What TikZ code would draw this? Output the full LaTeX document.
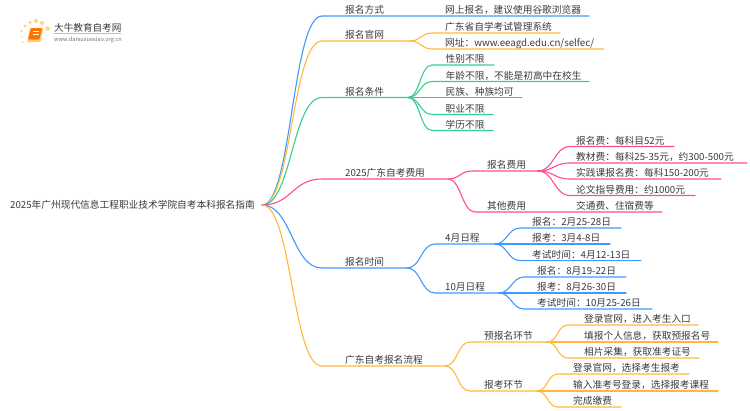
\documentclass[tikz,border=0pt]{standalone}
\usepackage{fontspec}
\setmainfont{Noto Sans CJK SC}
\definecolor{lineblue}{HTML}{3D9BFF}
\definecolor{lineorange}{HTML}{FFB83D}
\definecolor{linegreen}{HTML}{35CE8D}
\definecolor{linepink}{HTML}{FF4D94}
\definecolor{textgrey}{HTML}{3A3A3A}
\tikzset{
  lbl/.style={anchor=base west, inner sep=0pt, yshift=2.3pt, text=textgrey, font=\fontsize{9.7pt}{11pt}\selectfont},
  link/.style={line width=1.1pt, line cap=round, color=#1},
  bend/.style={to path={.. controls +(#1,0) and +(-#1,0) .. (\tikztotarget)}}
}

\begin{document}
\begin{tikzpicture}[x=1pt,y=-1pt]
  \useasboundingbox (0,0) rectangle (750,410);

  % logo
  \foreach \px/\py/\pr in {22/37/0.9,21.5/31/1.3,25/26/1.6,30/22.5/1.9,36/21/2.1,42/23/2.1,47.5/28.5/2.3,23/42/0.8}
    \fill[lineorange!60] (\px,\py) circle (\pr);
  \fill[lineorange!70!white, rounded corners=1pt] (30,28) -- (43.5,28) -- (40.5,42) -- (27,42) -- cycle;
  \fill[orange!90!red, rounded corners=1pt] (31,28) -- (42,28) -- (39.5,39.5) -- (28,39.5) -- cycle;
  \draw[white, line width=0.6pt] (33,31.5) -- (39,31.5) (32.5,34) -- (38.5,34);
  \node[anchor=base west, inner sep=0pt, text=textgrey, font=\fontsize{9.6pt}{11pt}\selectfont] (logotitle) at (54,31) {大牛教育自考网};
  \draw[black!25, line width=0.4pt] (54,33.5) -- (121,33.5);
  \node[anchor=base west, inner sep=0pt, text=black!55, font=\fontsize{5.6pt}{7pt}\selectfont] (logourl) at (54,41) {www.daniuxuexiao.org.cn};

  % root
  \coordinate (rootf) at (262,205);
  \node[lbl] (root) at (10,211) {2025年广州现代信息工程职业技术学院自考本科报名指南};

  % first level
  \foreach \nm/\y/\xe/\col/\txt in {way/16/589/lineblue/报名方式, site/41/410/lineorange/报名官网, cond/97.5/408/linegreen/报名条件, cost/179/448/linepink/2025广东自考费用, time/268/407/lineblue/报名时间, flow/366/445/lineorange/广东自考报名流程} {
    \coordinate (\nm s) at (322,\y);
    \coordinate (\nm f) at (\xe,\y);
    \node[lbl] (\nm) at (345,\y) {\txt};
    \draw[link=\col] (rootf) to[bend=30] (\nm s) -- (\nm f);
  }

  % way
  \node[lbl] (way1) at (445,16) {网上报名，建议使用谷歌浏览器};

  % site
  \foreach \nm/\y/\xe/\txt in {site1/33/560/广东省自学考试管理系统, site2/49/604/{网址：www.eeagd.edu.cn/selfec/}} {
    \coordinate (\nm s) at (432,\y);
    \coordinate (\nm e) at (\xe,\y);
    \node[lbl] (\nm) at (445,\y) {\txt};
    \draw[link=lineorange] (sitef) to[bend=11] (\nm s) -- (\nm e);
  }

  % cond
  \foreach \nm/\y/\xe/\txt in {cond1/65/494/性别不限, cond2/81.5/589/年龄不限，不能是初高中在校生, cond3/97.5/522/民族、种族均可, cond4/114.5/493/职业不限, cond5/130.5/493/学历不限} {
    \coordinate (\nm s) at (432,\y);
    \coordinate (\nm e) at (\xe,\y);
    \node[lbl] (\nm) at (445.5,\y) {\txt};
    \draw[link=linegreen] (condf) to[bend=12] (\nm s) -- (\nm e);
  }

  % cost
  \coordinate (fee s) at (472,171);
  \coordinate (fee f) at (538,171);
  \node[lbl] (fee) at (487,171) {报名费用};
  \draw[link=linepink] (costf) to[bend=12] (fee s) -- (fee f);
  \coordinate (other s) at (475,212);
  \coordinate (other e) at (662,212);
  \node[lbl] (other) at (487,212) {其他费用};
  \node[lbl] (other1) at (576,212) {交通费、住宿费等};
  \draw[link=linepink] (costf) to[bend=13] (other s) -- (other e);
  \foreach \nm/\y/\xe/\txt in {fee1/146.5/674/报名费：每科目52元, fee2/163/747/{教材费：每科25-35元，约300-500元}, fee3/179/721/实践课报名费：每科150-200元, fee4/195.5/695/论文指导费用：约1000元} {
    \coordinate (\nm s) at (570,\y);
    \coordinate (\nm e) at (\xe,\y);
    \node[lbl] (\nm) at (576,\y) {\txt};
    \draw[link=linepink] (fee f) to[bend=16] (\nm s) -- (\nm e);
  }

  % time
  \foreach \nm/\y/\xe/\txt in {apr/244/495/4月日程, oct/293/499/10月日程} {
    \coordinate (\nm s) at (435,\y);
    \coordinate (\nm f) at (\xe,\y);
    \node[lbl] (\nm) at (445,\y) {\txt};
    \draw[link=lineblue] (timef) to[bend=14] (\nm s) -- (\nm f);
  }
  \foreach \nm/\y/\xe/\txt in {apr1/228/621/报名：2月25-28日, apr2/244/610/报考：3月4-8日, apr3/260.6/641/考试时间：4月12-13日} {
    \coordinate (\nm s) at (520,\y);
    \coordinate (\nm e) at (\xe,\y);
    \node[lbl] (\nm) at (532,\y) {\txt};
    \draw[link=lineblue] (aprf) to[bend=12] (\nm s) -- (\nm e);
  }
  \foreach \nm/\y/\xe/\txt in {oct1/277/626/报名：8月19-22日, oct2/293/626/报考：8月26-30日, oct3/309/652/考试时间：10月25-26日} {
    \coordinate (\nm s) at (524,\y);
    \coordinate (\nm e) at (\xe,\y);
    \node[lbl] (\nm) at (537,\y) {\txt};
    \draw[link=lineblue] (octf) to[bend=12] (\nm s) -- (\nm e);
  }

  % flow
  \foreach \nm/\y/\xe/\xt/\txt in {pre/342/547/484/预报名环节, exam/391/537/484/报考环节} {
    \coordinate (\nm s) at (470,\y);
    \coordinate (\nm f) at (\xe,\y);
    \node[lbl] (\nm) at (\xt,\y) {\txt};
    \draw[link=lineorange] (flowf) to[bend=13] (\nm s) -- (\nm f);
  }
  \foreach \nm/\y/\xe/\txt in {pre1/325/698/登录官网，进入考生入口, pre2/342/718/填报个人信息，获取预报名号, pre3/358/699/相片采集，获取准考证号} {
    \coordinate (\nm s) at (568,\y);
    \coordinate (\nm e) at (\xe,\y);
    \node[lbl] (\nm) at (584,\y) {\txt};
    \draw[link=lineorange] (pref) to[bend=11] (\nm s) -- (\nm e);
  }
  \foreach \nm/\y/\xe/\txt in {exam1/374/689/登录官网，选择考生报考, exam2/391/718/输入准考号登录，选择报考课程, exam3/407/621/完成缴费} {
    \coordinate (\nm s) at (558,\y);
    \coordinate (\nm e) at (\xe,\y);
    \node[lbl] (\nm) at (573,\y) {\txt};
    \draw[link=lineorange] (examf) to[bend=11] (\nm s) -- (\nm e);
  }
\end{tikzpicture}
\end{document}
